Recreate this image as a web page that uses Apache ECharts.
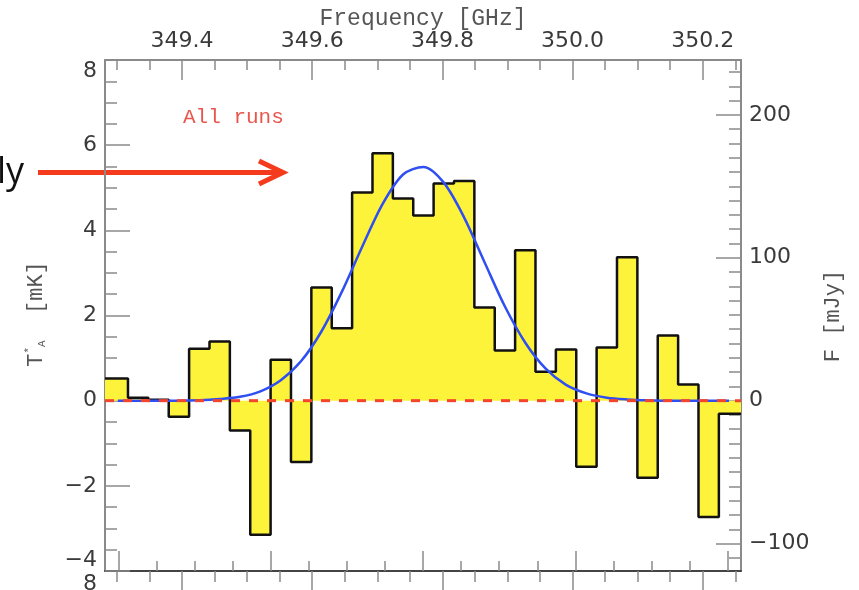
<!DOCTYPE html>
<html><head><meta charset="utf-8">
<script src="https://cdn.jsdelivr.net/npm/echarts@6/dist/echarts.min.js"></script>
<style>html,body{margin:0;padding:0;background:#fff;overflow:hidden}#c{width:859px;height:590px}</style>
</head><body><div id="c"></div>
<script>
// ---- data ----
const freqMin = 349.2817, freqMax = 350.2587;      // GHz range of the frame
const chanStart = 349.2857, chanWidth = 0.0313;     // channel grid (GHz)
// antenna temperature per channel [mK]
const tempValues = [0.52, 0.07, 0.02, -0.38, 1.22, 1.39, -0.70, -3.15, 0.96, -1.44,
  2.66, 1.70, 4.89, 5.81, 4.75, 4.35, 5.10, 5.16, 2.19, 1.18,
  3.53, 0.68, 1.20, -1.55, 1.25, 3.37, -1.81, 1.53, 0.38, -2.73, -0.31];
// gaussian fit read at channel centres [mK]
const fitValues = [0.00, 0.00, 0.00, 0.00, 0.01, 0.04, 0.09, 0.22, 0.48, 0.93,
  1.63, 2.56, 3.62, 4.62, 5.31, 5.49, 5.12, 4.30, 3.25, 2.21,
  1.36, 0.75, 0.37, 0.17, 0.07, 0.03, 0.01, 0.00, 0.00, 0.00, 0.00];
// axis ticks
const freqMajor = [349.4, 349.6, 349.8, 350.0, 350.2];
const freqMinor = [349.3, 349.35, 349.45, 349.5, 349.55, 349.65, 349.7, 349.75, 349.85, 349.9, 349.95, 350.05, 350.1, 350.15, 350.25];
const velMin = -417.5, velMax = 417.5;
const velMajor = [-400, -200, 0, 200, 400];
const velMinor = [-350, -300, -250, -150, -100, -50, 50, 100, 150, 250, 300, 350];
const fluxMin = -119.2, fluxMax = 238.4;
const fluxMajor = [-100, 0, 100, 200];
const fluxMinor = [];
for (let v = -110; v <= 230; v += 10) if (v % 100 !== 0) fluxMinor.push(v);

// ---- build series ----
const histPts = tempValues.map((v, i) => [i === 0 ? freqMin : chanStart + i * chanWidth, v]);
histPts.push([freqMax, tempValues[tempValues.length - 1]]);
const fitPts = fitValues.map((v, i) => [chanStart + (i + 0.5) * chanWidth, v]);

const minus = v => String(v).replace('-', '\u2212');
const axisGray = '#8a8a8a';
const labelFont = {fontFamily: 'DejaVu Sans', fontSize: 22, color: '#3a3a3a'};

function xAx(opt) {
  return Object.assign({
    type: 'value', splitLine: {show: false},
    axisLine: {show: false, onZero: false},
    axisLabel: {show: false},
  }, opt);
}
function tick(vals, len, inside, color) {
  return {show: true, inside: inside, length: len, customValues: vals, lineStyle: {color: color || axisGray, width: 1.5}};
}

const chart = echarts.init(document.getElementById('c'), null, {renderer: 'canvas'});
chart.setOption({
  animation: false,
  backgroundColor: '#fff',
  grid: {left: 105, top: 60, width: 636, height: 511, containLabel: false},
  xAxis: [
    xAx({position: 'top', min: freqMin, max: freqMax,
      axisLine: {show: true, onZero: false, lineStyle: {color: axisGray, width: 2}},
      axisTick: tick(freqMajor, 20, true),
      axisLabel: Object.assign({show: true, margin: 8, customValues: freqMajor, formatter: v => v.toFixed(1)}, labelFont)}),
    xAx({position: 'top', min: freqMin, max: freqMax, axisTick: tick(freqMinor, 10, true)}),
    xAx({position: 'bottom', min: velMin, max: velMax,
      axisLine: {show: true, onZero: false, lineStyle: {color: '#444', width: 2}},
      axisTick: tick(velMajor, 20, true)}),
    xAx({position: 'bottom', min: velMin, max: velMax, axisTick: tick(velMinor, 10, true)}),
    xAx({position: 'bottom', min: freqMin, max: freqMax, axisTick: tick(freqMajor, 22, false)}),
    xAx({position: 'bottom', min: freqMin, max: freqMax, axisTick: tick(freqMinor, 11, false)})
  ],
  yAxis: [
    {type: 'value', position: 'left', min: -4, max: 8, interval: 2, splitLine: {show: false},
      axisLine: {show: true, onZero: false, lineStyle: {color: axisGray, width: 2}},
      axisTick: {show: true, inside: true, length: 25, lineStyle: {color: axisGray, width: 1.5}},
      minorTick: {show: true, splitNumber: 4, length: 12, lineStyle: {color: axisGray, width: 1.5}},
      axisLabel: Object.assign({margin: 8, formatter: minus, verticalAlignMinLabel: 'bottom', verticalAlignMaxLabel: 'top'}, labelFont)},
    {type: 'value', position: 'right', min: fluxMin, max: fluxMax, splitLine: {show: false},
      axisLine: {show: true, onZero: false, lineStyle: {color: axisGray, width: 2}},
      axisTick: tick(fluxMajor, 25, true),
      axisLabel: Object.assign({margin: 8, customValues: fluxMajor, formatter: minus}, labelFont)},
    {type: 'value', position: 'right', min: fluxMin, max: fluxMax, splitLine: {show: false},
      axisLine: {show: false, onZero: false}, axisLabel: {show: false},
      axisTick: tick(fluxMinor, 12, true)}
  ],
  series: [
    {type: 'line', name: 'spectrum', xAxisIndex: 0, yAxisIndex: 0, step: 'end', data: histPts,
      symbol: 'none', z: 2, lineStyle: {color: '#111', width: 2.5},
      areaStyle: {color: '#fdf33a', opacity: 1, origin: 0}},
    {type: 'line', name: 'fit', xAxisIndex: 0, yAxisIndex: 0, data: fitPts, smooth: 0.3,
      symbol: 'none', z: 3, lineStyle: {color: '#2f4ff2', width: 2.5}},
    {type: 'line', name: 'zero', xAxisIndex: 0, yAxisIndex: 0, data: [[freqMin, 0], [freqMax, 0]],
      symbol: 'none', z: 4, lineStyle: {color: '#f2452c', width: 3, type: [9, 9]}}
  ],
  graphic: [
    {type: 'text', x: 423, y: 19, style: {text: 'Frequency [GHz]', font: '23px "Liberation Mono"', fill: '#555', align: 'center', verticalAlign: 'middle'}},
    {type: 'text', x: 183, y: 117, style: {text: 'All runs', font: '21px "Liberation Mono"', fill: '#e8564c', align: 'left', verticalAlign: 'middle'}},
    {type: 'text', x: 36, y: 314, rotation: Math.PI / 2, style: {
      text: '{a|T}{s|*}{b|A}{a|  [mK]}', align: 'center', verticalAlign: 'middle',
      rich: {
        a: {font: '22px "Liberation Mono"', fill: '#555', lineHeight: 24, verticalAlign: 'middle'},
        s: {font: '11px "Liberation Mono"', fill: '#555', lineHeight: 24, verticalAlign: 'top'},
        b: {font: '11px "Liberation Mono"', fill: '#555', lineHeight: 24, verticalAlign: 'bottom'}
      }}},
    {type: 'text', x: 833, y: 316, rotation: Math.PI / 2, style: {text: 'F [mJy]', font: '22px "Liberation Mono"', fill: '#555', align: 'center', verticalAlign: 'middle'}},
    {type: 'text', x: 97, y: 573, style: {text: '8', font: '22px "DejaVu Sans"', fill: '#3a3a3a', align: 'right', verticalAlign: 'top'}},
    {type: 'text', x: -3, y: 173, style: {text: 'ly', font: '36px "Open Sans"', fill: '#111', align: 'left', verticalAlign: 'middle'}},
    {type: 'line', shape: {x1: 38, y1: 172.5, x2: 280, y2: 172.5}, style: {stroke: '#f53b1e', lineWidth: 5}},
    {type: 'polyline', shape: {points: [[259, 161], [283, 172.5], [259, 184]]}, style: {stroke: '#f53b1e', lineWidth: 5, fill: null, lineJoin: 'miter'}}
  ]
});
</script></body></html>
